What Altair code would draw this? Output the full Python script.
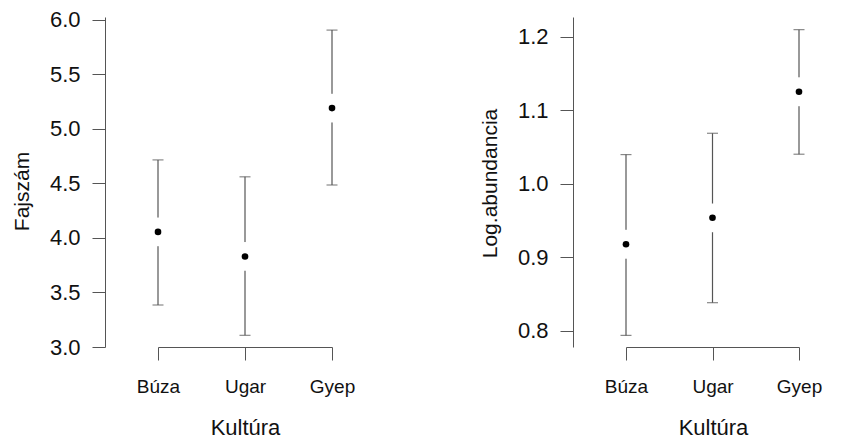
import altair as alt
import pandas as pd

categories = ["Búza", "Ugar", "Gyep"]

faj_mean = [4.055, 3.83, 5.19]
faj_lo = [3.385, 3.107, 4.485]
faj_hi = [4.715, 4.56, 5.905]

log_mean = [0.918, 0.954, 1.1255]
log_lo = [0.794, 0.8385, 1.0405]
log_hi = [1.040, 1.069, 1.210]

faj_ticks = [3.0, 3.5, 4.0, 4.5, 5.0, 5.5, 6.0]
log_ticks = [0.8, 0.9, 1.0, 1.1, 1.2]

FONT = "Liberation Sans"
LINE = "#555555"


def panel(means, lo, hi, ytitle, ydomain, yticks, width, xrange, xtitle_x, ytitle_y):
    df = pd.DataFrame({"cat": categories, "mean": means, "lo": lo, "hi": hi})
    x = alt.X(
        "cat:N",
        sort=categories,
        scale=alt.Scale(type="point", range=xrange, padding=0),
        axis=alt.Axis(
            title="Kultúra",
            labelAngle=0,
            labelFont=FONT,
            labelFontSize=19,
            labelColor="#111",
            labelBaseline="alphabetic",
            labelPadding=32,
            tickSize=13,
            tickColor=LINE,
            domainColor=LINE,
            titleFont=FONT,
            titleFontSize=22,
            titleFontWeight="normal",
            titleColor="#111",
            titleBaseline="alphabetic",
            titleY=87,
            titleX=xtitle_x,
        ),
    )
    yscale = alt.Scale(domain=ydomain, nice=False, zero=False)
    yaxis = alt.Axis(
        title=ytitle,
        values=yticks,
        format=".1f",
        grid=False,
        labelFont=FONT,
        labelFontSize=22,
        labelColor="#111",
        labelPadding=12,
        tickSize=13,
        tickColor=LINE,
        domainColor=LINE,
        titleFont=FONT,
        titleFontSize=21,
        titleFontWeight="normal",
        titleColor="#111",
        titleBaseline="alphabetic",
        titleX=-77,
        titleY=ytitle_y,
        labelOverlap=False,
    )
    base = alt.Chart(df)
    rule = base.mark_rule(color=LINE, strokeWidth=1.2).encode(
        x=x, y=alt.Y("lo:Q", scale=yscale, axis=yaxis), y2="hi:Q"
    )
    cap_lo = base.mark_tick(color=LINE, thickness=1.2, size=11, orient="horizontal").encode(
        x=x, y=alt.Y("lo:Q", scale=yscale)
    )
    cap_hi = base.mark_tick(color=LINE, thickness=1.2, size=11, orient="horizontal").encode(
        x=x, y=alt.Y("hi:Q", scale=yscale)
    )
    gap = base.mark_point(filled=True, color="white", opacity=1, size=830).encode(
        x=x, y=alt.Y("mean:Q", scale=yscale)
    )
    dot = base.mark_point(filled=True, color="black", opacity=1, size=44).encode(
        x=x, y=alt.Y("mean:Q", scale=yscale)
    )
    return alt.layer(rule, cap_lo, cap_hi, gap, dot).properties(width=width, height=330)


left = panel(faj_mean, faj_lo, faj_hi, "Fajszám", [3.0, 6.025], faj_ticks, 280, [53, 227], 140, 174)
right = panel(log_mean, log_lo, log_hi, "Log.abundancia", [0.7782, 1.2272], log_ticks, 258, [53, 226], 140, 166)

chart = (
    alt.hconcat(left, right, spacing=94)
    .properties(padding={"left": 3, "top": 0, "right": 0, "bottom": 0}, background="white")
    .configure_view(stroke=None)
)

chart.save("out.html", embed_options={"renderer": "svg", "actions": False})
